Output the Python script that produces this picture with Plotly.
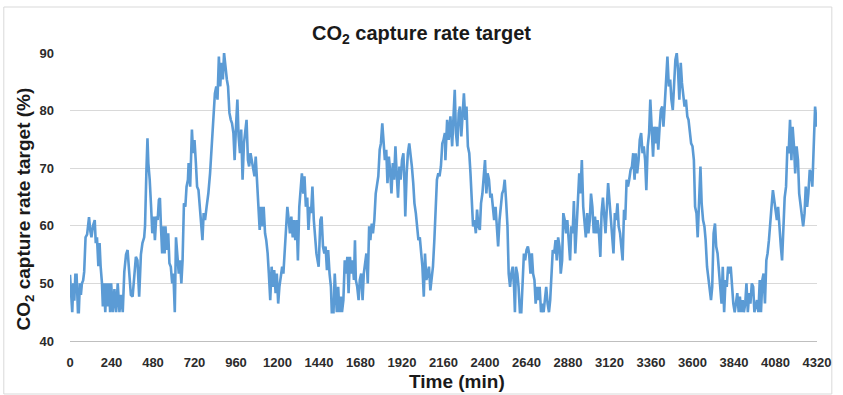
import plotly.graph_objects as go

# CO2 capture rate target (%) sampled over three days of operation (minutes)
day1_min = [0, 6, 13, 19, 25, 31, 38, 46, 51, 57, 63, 69, 76, 82, 90, 99, 110, 118, 124, 133,
            143, 149, 156, 164, 171, 177, 185, 190, 196, 204, 210, 219, 225, 232, 238, 248, 257, 267, 276, 286,
            295, 305, 314, 324, 333, 343, 352, 362, 371, 381, 390, 400, 410, 419, 429, 434, 442, 448, 453, 461,
            469, 476, 484, 491, 499, 507, 514, 520, 526, 533, 539, 547, 552, 560, 568, 575, 583, 591, 598, 606,
            613, 621, 629, 636, 644, 651, 659, 667, 674, 682,
            686, 695, 705, 712, 720, 728, 735, 743, 750, 758, 766, 773, 781, 790, 800, 810, 819, 829, 838, 846,
            853, 861, 869, 876, 884, 891, 899, 907, 914, 922, 930, 937, 945, 952, 960, 968, 975, 983, 990, 998,
            1006, 1013, 1021, 1029, 1036, 1044, 1051, 1059, 1067, 1074, 1082, 1090, 1097, 1105, 1112, 1120, 1128, 1135, 1143, 1150,
            1158, 1166, 1173, 1181, 1189, 1196, 1204, 1211, 1219, 1227, 1234, 1242, 1250, 1257, 1265, 1272, 1280, 1288, 1295, 1303,
            1311, 1318, 1326, 1333, 1341, 1349, 1356, 1364, 1372, 1379, 1387, 1394, 1402, 1410, 1417, 1425, 1438]
day1_pct = [51.5, 48, 45, 50, 47, 51.5, 51.5, 45, 45, 50, 48, 50, 50.5, 52, 58, 58.5, 61.5, 59, 58, 60,
            61, 57, 58, 53, 57, 53, 50, 46, 50, 45, 50, 46, 50, 45, 50, 45, 49, 45, 50, 45,
            48, 45, 52, 55, 55.8, 51.7, 48, 47.7, 50.6, 54.6, 54, 47.7, 55, 57, 58, 60, 69.7, 75.2, 70.9, 68,
            63.3, 58.7, 61.6, 57.5, 61.6, 61, 64.5, 64.8, 59.9, 55.2, 59.9, 55.2, 59.9, 55.8, 58.7, 53.5, 52.9, 50, 51.7, 45,
            58, 55.2, 51.7, 54, 50, 54, 63.9, 63.3, 66.8, 68,
            70.9, 66.8, 76.7, 72.6, 74.9, 70.9, 66.8, 66.2, 63.3, 61, 57.5, 62.2, 61, 63.3, 65.6, 69.1, 73.8, 77.2, 83, 84.2,
            81.9, 89.4, 84.2, 88.3, 85.4, 90, 87.1, 85.4, 84.2, 79.6, 78.4, 77.8, 76.1, 71.4, 77.2, 81.9, 75.5, 72.6, 76.7, 68,
            74.3, 76.7, 78.4, 71.4, 70.3, 72.6, 71.4, 69.7, 68.6, 72, 68, 63.9, 59.3, 63.3, 59.9, 63.3, 58.7, 57.5, 55.2, 51.7,
            47.1, 52.9, 49.4, 52.3, 48.3, 51.7, 46.5, 49.4, 51.2, 52.9, 51.7, 55.2, 59.9, 63.3, 61, 58.7, 61.6, 58, 61, 57.5,
            61, 54, 63.3, 66.8, 69.1, 65.6, 68.6, 63.3, 64.9, 59.3, 63.3, 62.2, 66.8, 61, 58.7, 55.2, 52.9]

day2_min = [1448, 1455, 1463, 1471, 1478, 1486, 1493, 1501, 1509, 1514, 1524, 1531, 1537, 1543, 1551, 1558, 1566, 1573, 1581, 1589,
            1596, 1604, 1611, 1619, 1627, 1634, 1642, 1648, 1653, 1661, 1669, 1676, 1684, 1692, 1699, 1707, 1714, 1722, 1730, 1737,
            1745, 1752, 1760, 1768, 1775, 1783, 1791, 1798, 1806, 1813, 1821, 1829, 1836, 1844, 1851, 1859, 1867, 1874, 1882, 1890,
            1897, 1905, 1912, 1920, 1928, 1935, 1939, 1947, 1954, 1962, 1970, 1977, 1985, 1992, 2000, 2008, 2015, 2023, 2031, 2038,
            2046, 2053, 2061, 2069, 2076, 2084, 2092, 2099, 2107, 2114, 2122, 2130, 2137, 2145, 2153, 2160, 2168,
            2171, 2181, 2190, 2200, 2210, 2217, 2225, 2232, 2240, 2248, 2255, 2263, 2270, 2278, 2286, 2293, 2301, 2309, 2316, 2324,
            2331, 2339, 2347, 2354, 2362, 2370, 2377, 2385, 2392, 2400, 2408, 2415, 2423, 2431, 2438, 2446, 2453, 2461, 2469, 2476,
            2484, 2491, 2499, 2507, 2514, 2522, 2530, 2537, 2545, 2552, 2560, 2568, 2573, 2579, 2587, 2594, 2602, 2610, 2617, 2625,
            2632, 2640, 2648, 2655, 2663, 2671, 2678, 2686, 2693, 2701, 2709, 2716, 2724, 2732, 2739, 2747, 2754, 2762, 2770, 2777,
            2785, 2792, 2800, 2808, 2815, 2823, 2831, 2838, 2846, 2853, 2861, 2869, 2876]
day2_pct = [61, 61.6, 56.4, 55.2, 56.4, 52.3, 55.8, 51.7, 49.4, 45, 45, 51.7, 48.3, 45, 49.4, 45, 47.7, 45, 47.1, 54,
            51.7, 54.6, 48.3, 54.6, 51.7, 54, 50.6, 57.5, 50.6, 49.4, 47.1, 50.6, 51.7, 47.1, 51.7, 54, 55.2, 50, 59.9, 57.5,
            60.4, 58.7, 61, 65.6, 66.8, 68.6, 73.2, 74.3, 77.8, 73.8, 71.4, 73.2, 67.4, 72, 69.7, 65.6, 70.9, 68, 73.8, 68.6,
            64.9, 70.3, 68, 71.4, 72.6, 66.8, 61.6, 69.1, 72.6, 74.3, 72.6, 70.3, 67.4, 63.9, 62.2, 59.3, 57.5, 58, 55.2, 52.9,
            47.7, 55.2, 50.6, 51.7, 52.9, 48.8, 51.7, 52.9, 57.5, 63.3, 68, 69.1, 68.6, 70.3, 74.3, 74.9, 76.1,
            71.4, 78.4, 74.9, 79, 73.8, 79.6, 83.6, 76.1, 73.8, 79.6, 80.7, 75.5, 78.4, 83, 78.4, 80.7, 73.8, 72.6, 69.1, 63.3,
            59.9, 61, 58.7, 62.8, 59.9, 59.3, 63.9, 65.6, 68.6, 71.4, 65.6, 69.1, 68, 64.9, 65.6, 62.2, 61, 63.3, 59.9, 56.4,
            61, 63.3, 65.6, 66.2, 68, 64.3, 59.9, 51.7, 49.4, 51.7, 52.9, 49.4, 45, 52.9, 51.7, 49.4, 45, 45, 51.2, 55.2,
            54, 55.8, 56.4, 55.2, 51.7, 55.2, 51.7, 50.6, 46.5, 49.4, 47.1, 49.4, 45, 46.5, 45, 47.1, 49.4, 46.5, 45, 47.1,
            51.7, 55.8, 55.2, 57.5, 54, 58, 56.4, 51.7, 54, 62.2, 61, 58.7, 61]

day3_min = [2884, 2892, 2899, 2907, 2914,
            2922, 2930, 2937, 2945, 2952, 2960, 2968, 2975, 2983, 2991, 2998, 3006, 3013, 3021, 3029, 3036, 3044, 3051, 3059, 3067,
            3074, 3082, 3090, 3097, 3105, 3112, 3120, 3128, 3135, 3143, 3151, 3158, 3166, 3173, 3181, 3189, 3196, 3204, 3211, 3219,
            3227, 3234, 3242, 3250, 3257, 3265, 3272, 3280, 3288, 3295, 3303, 3311, 3318, 3326, 3333, 3341, 3349, 3356, 3364, 3372,
            3379, 3387, 3394, 3402, 3410, 3417, 3425, 3432, 3440, 3448, 3455, 3463, 3471, 3478, 3486, 3493, 3501, 3509, 3516, 3524,
            3532, 3539, 3547, 3554, 3562, 3570, 3577, 3585, 3592,
            3600, 3608, 3615, 3623, 3630, 3638, 3646, 3653, 3661, 3669, 3676, 3684, 3691, 3699, 3707, 3714, 3722, 3730, 3737, 3745,
            3752, 3760, 3768, 3775, 3783, 3791, 3798, 3806, 3813, 3821, 3829, 3836, 3844, 3851, 3859, 3867, 3874, 3882, 3890, 3897,
            3905, 3912, 3920, 3928, 3935, 3943, 3951, 3958, 3966, 3973, 3981, 3989, 3996, 4004, 4011, 4019, 4027, 4034, 4042, 4050,
            4057, 4065, 4072, 4080, 4088, 4095, 4103, 4111, 4118, 4126, 4133, 4141, 4149, 4156, 4164, 4172, 4179, 4187, 4194, 4202,
            4210, 4217, 4225, 4232, 4240, 4248, 4255, 4263, 4270, 4278, 4286, 4293, 4301, 4309, 4320]
day3_pct = [56.4, 54, 59.9, 58.7, 64.3,
            55.2, 59.9, 65.6, 69.1, 65.6, 71.4, 63.3, 59.9, 58, 62.2, 58.7, 61, 65.6, 63.3, 58.7, 61.6, 58.7, 61, 58.7, 54.6,
            62.2, 64.9, 61, 58.7, 63.3, 67.4, 64.3, 61, 58.7, 55.2, 62.2, 61, 63.9, 59.9, 58.7, 56.4, 54, 62.8, 61, 68,
            66.8, 68, 69.7, 70.3, 72.6, 68, 72.6, 69.1, 71.4, 74.9, 76.1, 72.6, 73.8, 71.4, 66.2, 73.8, 76.1, 81.9, 76.1, 72,
            77.2, 74.3, 77.2, 73.2, 77.2, 80.1, 80.7, 77.2, 81.3, 85.4, 89.4, 84.2, 85.4, 81.9, 80.1, 84.2, 88.8, 90, 87.1, 81.9,
            88.3, 84.8, 83, 80.7, 81.9, 79, 78.4, 76.1, 74.3,
            73.8, 71.4, 63.3, 62.2, 58, 63.3, 70.3, 63.9, 61, 59.9, 57.5, 52.9, 51.2, 49.4, 47.1, 49.4, 58.7, 60.4, 56.4, 55.2,
            52.3, 49.4, 46.5, 52.9, 45, 50.6, 49.4, 52.9, 51.7, 52.9, 49.4, 46.5, 45, 46.5, 48.3, 45, 47.7, 45, 47.1, 45,
            46.5, 50, 45, 48.3, 46.5, 50, 49.4, 45, 46.5, 47.1, 45, 50.6, 45, 50.6, 51.7, 46.5, 54, 55.2, 57.5, 61.6,
            63.3, 66.2, 64.3, 63.3, 61, 63.3, 58.7, 56.4, 54, 59.9, 64.9, 66.8, 73.8, 72.6, 78.4, 71.4, 77.2, 73.8, 69.1, 73.8,
            71.4, 65.6, 63.3, 62.2, 59.9, 62.2, 66.8, 63.3, 65.6, 69.7, 69.1, 66.8, 72.6, 80.7, 77.2]

x_ticks = [0, 240, 480, 720, 960, 1200, 1440, 1680, 1920, 2160, 2400, 2640,
           2880, 3120, 3360, 3600, 3840, 4080, 4320]
y_ticks = [40, 50, 60, 70, 80, 90]

minutes = day1_min + day2_min + day3_min
capture = day1_pct + day2_pct + day3_pct

W, H = 843, 395
ML, MR, MT, MB = 70, 17, 53, 54
PW, PH = W - ML - MR, H - MT - MB

FONT = "Liberation Sans, Arial, sans-serif"
TXT = "#1a1a1a"
TICK = "#2b2b2b"

fig = go.Figure(
    go.Scatter(
        x=minutes, y=capture, mode="lines",
        line=dict(color="#5B9BD5", width=2.6),
        hoverinfo="x+y", showlegend=False,
    )
)

fig.update_layout(
    width=W, height=H,
    margin=dict(l=ML, r=MR, t=MT, b=MB, pad=0),
    paper_bgcolor="white", plot_bgcolor="white",
    font=dict(family=FONT, color=TXT),
    title=dict(
        text="<b>CO<sub>2</sub> capture rate target</b>",
        x=0.5, xref="container", xanchor="center",
        y=1 - 33 / H, yref="container", yanchor="middle",
        font=dict(family=FONT, size=20, color=TXT),
    ),
    xaxis=dict(
        range=[0, 4320], tickvals=x_ticks, ticktext=[str(v) for v in x_ticks],
        showgrid=False, zeroline=False, showline=True, linecolor="#BFBFBF", linewidth=1,
        ticks="", ticklabelstandoff=9,
        tickfont=dict(family=FONT, size=13, color=TICK, weight="bold"),
    ),
    yaxis=dict(
        range=[40, 90], tickvals=y_ticks, ticktext=[str(v) for v in y_ticks],
        showgrid=True, gridcolor="#D9D9D9", gridwidth=1, zeroline=False, showline=False,
        ticks="", ticklabelstandoff=15,
        tickfont=dict(family=FONT, size=13, color=TICK, weight="bold"),
    ),
    annotations=[
        dict(text="<b>Time (min)</b>", xref="paper", yref="paper",
             x=(462 - ML) / PW, y=-(381 - MT - PH) / PH, xanchor="center", yanchor="middle",
             showarrow=False, font=dict(family=FONT, size=19, color=TXT)),
        dict(text="<b>CO<sub>2</sub> capture rate target (%)</b>", xref="paper", yref="paper",
             x=-(ML - 24) / PW, y=0.5 - (209 - MT - PH / 2) / PH, xanchor="center", yanchor="middle",
             textangle=-90, showarrow=False, font=dict(family=FONT, size=19, color=TXT)),
    ],
    shapes=[
        # light frame around the whole chart area
        dict(type="rect", xref="paper", yref="paper", layer="below",
             x0=(3 - ML) / PW, x1=(841 - ML) / PW,
             y0=(H - MB - 394) / PH, y1=(H - MB - 7) / PH,
             line=dict(color="#D9D9D9", width=1), fillcolor="rgba(0,0,0,0)"),
    ],
)

fig.write_html("out.html")
